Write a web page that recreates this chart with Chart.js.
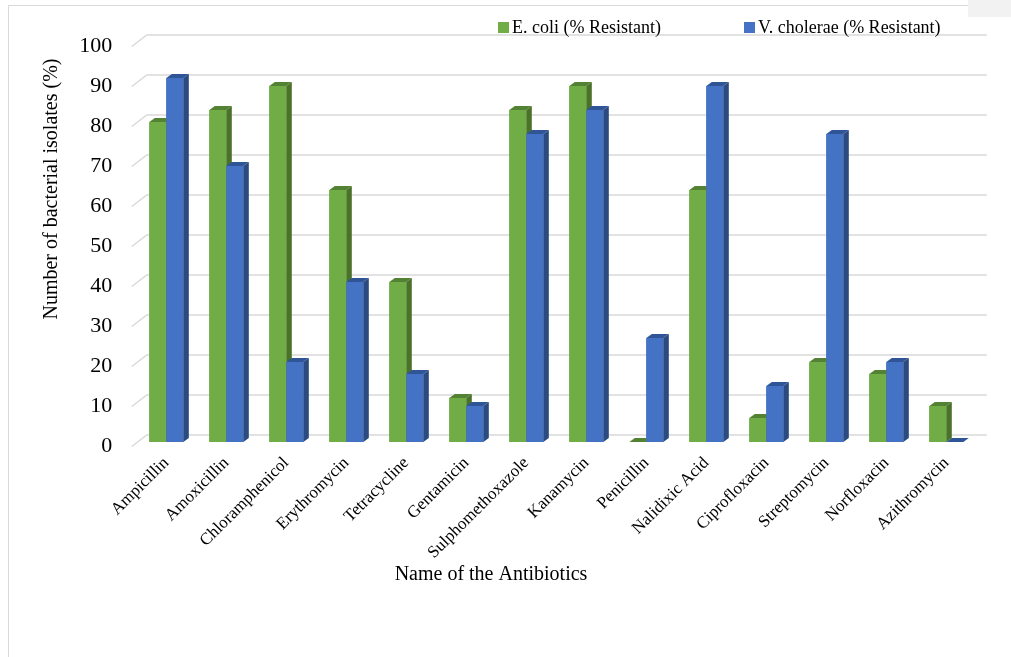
<!DOCTYPE html>
<html>
<head>
<meta charset="utf-8">
<title>Antibiotic resistance</title>
<script src="https://cdn.jsdelivr.net/npm/chart.js@4.4.1/dist/chart.umd.min.js"></script>
<style>
  html, body { margin: 0; padding: 0; background: #fff; }
  #wrap { position: relative; width: 1011px; height: 657px; overflow: hidden; }
  #frame { position: absolute; left: 8px; top: 5px; width: 960px; height: 660px;
           border-top: 1.5px solid #d9d9d9; border-left: 1.5px solid #d9d9d9; pointer-events: none; }
  #corner { position: absolute; left: 968px; top: 0; width: 43px; height: 17px; background: #f2f2f2; }
</style>
</head>
<body>
<div id="wrap">
  <canvas id="chart"></canvas>
  <div id="frame"></div>
  <div id="corner"></div>
</div>
<script>
// Datos
const antibiotics = ['Ampicillin', 'Amoxicillin', 'Chloramphenicol', 'Erythromycin', 'Tetracycline',
  'Gentamicin', 'Sulphomethoxazole', 'Kanamycin', 'Penicillin', 'Nalidixic Acid',
  'Ciprofloxacin', 'Streptomycin', 'Norfloxacin', 'Azithromycin'];
const ecoliResistant = [80, 83, 89, 63, 40, 11, 83, 89, 0, 63, 6, 20, 17, 9];
const choleraeResistant = [91, 69, 20, 40, 17, 9, 77, 83, 26, 89, 14, 77, 20, 0];
const yTicks = [0, 10, 20, 30, 40, 50, 60, 70, 80, 90, 100];

const serif = '"Liberation Serif", "Times New Roman", serif';
const depthX = 5.5;
const depthY = 4;

// Efecto 3D: pared del fondo, caras superior y lateral de cada barra, leyenda y títulos
const threeD = {
  id: 'threeD',
  beforeDatasetsDraw(chart) {
    const { ctx, chartArea, scales: { y } } = chart;
    ctx.save();
    ctx.strokeStyle = '#d9d9d9';
    ctx.lineWidth = 1.5;
    yTicks.forEach(v => {
      const py = y.getPixelForValue(v);
      ctx.beginPath();
      ctx.moveTo(chartArea.left - 4.5, py + 4.5);
      ctx.lineTo(chartArea.left + 10.5, py - 7);
      ctx.lineTo(chartArea.right + 10.5, py - 7);
      ctx.stroke();
    });
    ctx.restore();
  },
  afterDatasetsDraw(chart) {
    const ctx = chart.ctx;
    ctx.save();
    // Se redibuja en orden: E. coli y luego V. cholerae, para que cada par tape bien al anterior
    chart.data.datasets.forEach((ds, i) => {
      chart.getDatasetMeta(i).data.forEach(bar => {
        bar.draw(ctx, chart.chartArea);
        const x0 = bar.x - bar.width / 2;
        const x1 = bar.x + bar.width / 2;
        const top = bar.y;
        const base = bar.base;
        // cara superior
        ctx.fillStyle = ds.topColor;
        ctx.beginPath();
        ctx.moveTo(x0, top);
        ctx.lineTo(x0 + depthX, top - depthY);
        ctx.lineTo(x1 + depthX, top - depthY);
        ctx.lineTo(x1, top);
        ctx.closePath();
        ctx.fill();
        // cara lateral
        ctx.fillStyle = ds.sideColor;
        ctx.beginPath();
        ctx.moveTo(x1, top);
        ctx.lineTo(x1 + depthX, top - depthY);
        ctx.lineTo(x1 + depthX, base - depthY);
        ctx.lineTo(x1, base);
        ctx.closePath();
        ctx.fill();
      });
    });
    ctx.restore();
  },
  afterDraw(chart) {
    const ctx = chart.ctx;
    ctx.save();
    ctx.fillStyle = '#000';
    // leyenda
    const legendX = [498, 744];
    ctx.font = '18px ' + serif;
    ctx.textBaseline = 'middle';
    ctx.textAlign = 'left';
    chart.data.datasets.forEach((ds, i) => {
      ctx.fillStyle = ds.backgroundColor;
      ctx.fillRect(legendX[i], 22, 11, 11);
      ctx.fillStyle = '#000';
      ctx.fillText(ds.label, legendX[i] + 14, 28);
    });
    // título eje X
    ctx.font = '20px ' + serif;
    ctx.textAlign = 'center';
    ctx.fillText('Name of the Antibiotics', 491, 575);
    // título eje Y
    ctx.translate(52, 189);
    ctx.rotate(-Math.PI / 2);
    ctx.font = '20px ' + serif;
    ctx.fillText('Number of bacterial isolates (%)', 0, 0);
    ctx.restore();
  }
};

const chart = new Chart(document.getElementById('chart'), {
  type: 'bar',
  data: {
    labels: antibiotics,
    datasets: [
      {
        label: 'E. coli (% Resistant)',
        data: ecoliResistant,
        backgroundColor: '#70ad47',
        topColor: '#548235',
        sideColor: '#4a7229'
      },
      {
        label: 'V. cholerae (% Resistant)',
        data: choleraeResistant,
        backgroundColor: '#4472c4',
        topColor: '#2f5597',
        sideColor: '#2a4a80'
      }
    ]
  },
  options: {
    responsive: true,
    maintainAspectRatio: false,
    animation: false,
    layout: { padding: { top: 42, right: 34.7, left: 0, bottom: 0 } },
    datasets: {
      bar: { categoryPercentage: 0.567, barPercentage: 1 }
    },
    scales: {
      x: {
        grid: { display: false, drawTicks: false },
        border: { display: false },
        ticks: {
          color: '#000',
          font: { family: serif, size: 17 },
          minRotation: 45,
          maxRotation: 45,
          autoSkip: false,
          padding: 11
        },
        afterFit(scale) { scale.height = 215; }
      },
      y: {
        min: 0,
        max: 100,
        grid: { display: false, drawTicks: false },
        border: { display: false },
        ticks: {
          stepSize: 10,
          color: '#000',
          font: { family: serif, size: 22 },
          padding: 24,
          labelOffset: 4
        },
        afterFit(scale) { scale.width = 136.3; }
      }
    },
    plugins: {
      legend: { display: false },
      tooltip: { enabled: false }
    }
  },
  plugins: [threeD]
});
</script>
</body>
</html>
